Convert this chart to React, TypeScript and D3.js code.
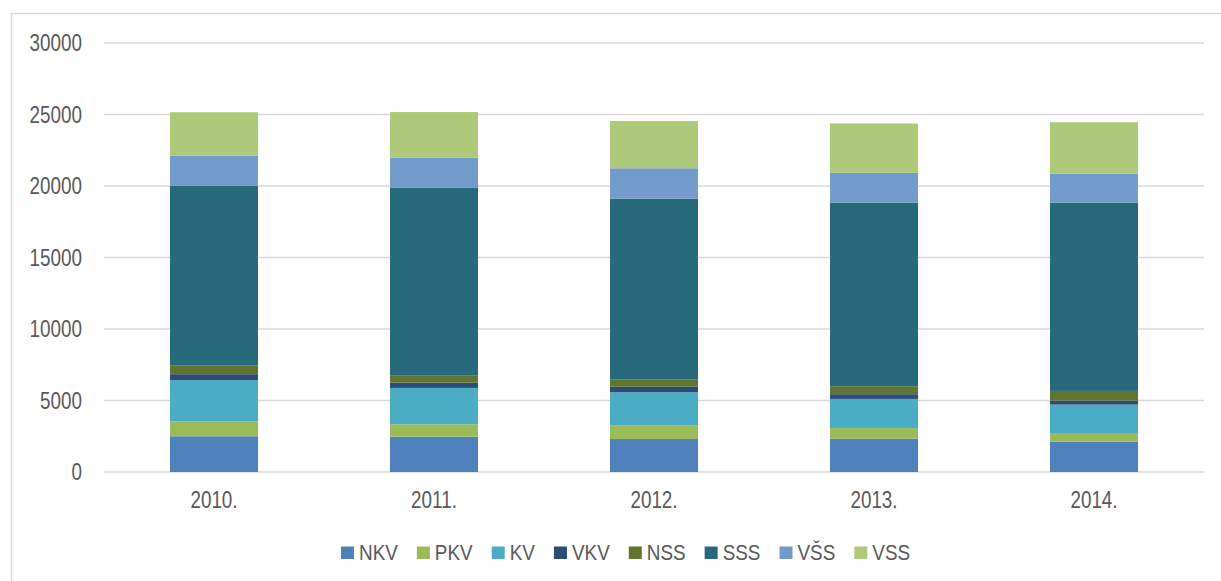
import { useEffect, useRef } from "react";
import * as d3 from "d3";

const years = ["2010.", "2011.", "2012.", "2013.", "2014."];
const seriesNames = ["NKV", "PKV", "KV", "VKV", "NSS", "SSS", "VŠS", "VSS"];
const seriesColors = ["#4f81bd", "#9bbb59", "#4bacc6", "#2c4d75", "#5f7530", "#276a7c", "#729aca", "#afc97a"];

const nkv = [2500, 2470, 2310, 2330, 2120];
const pkv = [1050, 870, 930, 750, 610];
const kv = [2870, 2540, 2335, 2030, 1980];
const vkv = [420, 370, 390, 330, 280];
const nss = [630, 520, 490, 560, 680];
const sss = [12560, 13100, 12660, 12840, 13170];
const vss2 = [2100, 2100, 2125, 2080, 2030];
const vss = [3030, 3200, 3305, 3450, 3590];

const yTicks = [0, 5000, 10000, 15000, 20000, 25000, 30000];

const W = 1221;
const H = 581;
const FONT = "'Liberation Sans', Arial, sans-serif";
const TEXT = "#595959";
const SX = 0.82; // narrow the glyphs like Arial Narrow

export default function App() {
  const svgRef = useRef<SVGSVGElement>(null);

  useEffect(() => {
    const svg = d3.select(svgRef.current);
    svg.selectAll("*").remove();

    const left = 104, right = 1204, top = 43, bottom = 472;
    const values = [nkv, pkv, kv, vkv, nss, sss, vss2, vss];
    const rows = years.map((y, i) => {
      const r: any = { year: y };
      seriesNames.forEach((s, j) => (r[s] = values[j][i]));
      return r;
    });

    const x = d3.scaleBand().domain(years).range([left, right]).paddingInner(0.6).paddingOuter(0.3);
    const y = d3.scaleLinear().domain([0, 30000]).range([bottom, top]);

    // outer frame
    svg.append("rect")
      .attr("x", 11.5).attr("y", 13.5)
      .attr("width", 1400).attr("height", 800)
      .attr("fill", "none").attr("stroke", "#d9d9d9").attr("stroke-width", 1.5);

    // gridlines
    svg.append("g")
      .selectAll("line")
      .data(yTicks)
      .enter()
      .append("line")
      .attr("x1", left).attr("x2", right)
      .attr("y1", (d) => y(d)).attr("y2", (d) => y(d))
      .attr("stroke", "#d9d9d9").attr("stroke-width", 1.5);

    // y labels
    svg.append("g")
      .selectAll("text")
      .data(yTicks)
      .enter()
      .append("text")
      .attr("transform", (d) => `translate(82,${y(d)}) scale(${SX},1)`)
      .attr("dy", "0.36em")
      .attr("text-anchor", "end")
      .attr("font-family", FONT).attr("font-size", 23).attr("fill", TEXT)
      .text((d) => d);

    // stacked bars
    const stack = d3.stack<any>().keys(seriesNames)(rows);
    svg.append("g")
      .selectAll("g")
      .data(stack)
      .enter()
      .append("g")
      .attr("fill", (_, i) => seriesColors[i])
      .selectAll("rect")
      .data((d) => d)
      .enter()
      .append("rect")
      .attr("x", (d: any) => x(d.data.year) || 0)
      .attr("width", x.bandwidth())
      .attr("y", (d) => y(d[1]))
      .attr("height", (d) => y(d[0]) - y(d[1]));

    // x labels
    svg.append("g")
      .selectAll("text")
      .data(years)
      .enter()
      .append("text")
      .attr("transform", (d) => `translate(${(x(d) || 0) + x.bandwidth() / 2},508) scale(${SX},1)`)
      .attr("text-anchor", "middle")
      .attr("font-family", FONT).attr("font-size", 23).attr("fill", TEXT)
      .text((d) => d);

    // legend
    const lg = svg.append("g");
    let cx = 341;
    seriesNames.forEach((s, i) => {
      lg.append("rect")
        .attr("x", cx).attr("y", 546.5)
        .attr("width", 13).attr("height", 12.5)
        .attr("fill", seriesColors[i]);
      const t = lg.append("text")
        .attr("transform", `translate(${cx + 18},560) scale(0.86,1)`)
        .attr("font-family", FONT).attr("font-size", 22).attr("fill", TEXT)
        .text(s);
      const w = (t.node() as SVGTextElement).getComputedTextLength() * 0.86;
      cx += 18 + w + 19;
    });
  }, []);

  return (
    <svg
      ref={svgRef}
      width={W}
      height={H}
      style={{ position: "absolute", left: 0, top: 0, background: "#fff" }}
    />
  );
}
